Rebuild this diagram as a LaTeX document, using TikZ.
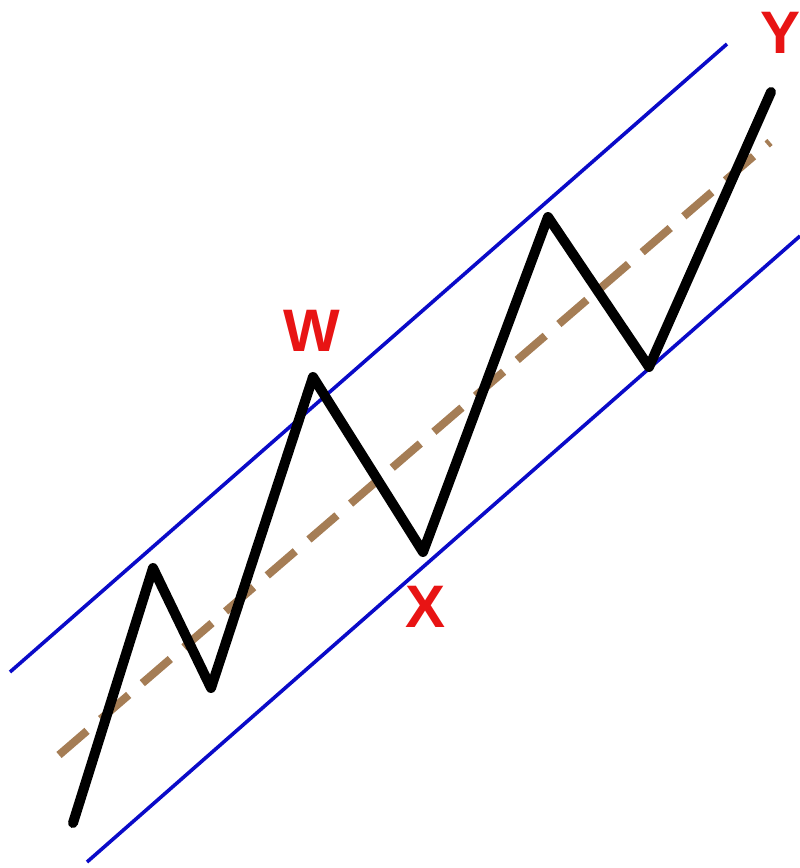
\documentclass[tikz,border=0pt]{standalone}
\usepackage{fontspec}
\setmainfont{Liberation Sans}
\definecolor{chanblue}{RGB}{10,10,200}
\definecolor{midtan}{RGB}{165,125,85}
\definecolor{lblred}{RGB}{232,20,20}
\tikzset{
  chan/.style={draw=chanblue, line width=3.6pt},
  midline/.style={draw=midtan, line width=8pt, dash pattern=on 37pt off 18pt},
  wave/.style={draw=black, line width=10pt, line join=round, line cap=round},
  lbl/.style={text=lblred, font=\fontsize{60}{60}\selectfont\bfseries, inner sep=0pt}
}
\begin{document}
\begin{tikzpicture}[x=1pt,y=-1pt]
\useasboundingbox (0,0) rectangle (800,868);
% channel lines
\coordinate (ua) at (10,672);
\coordinate (ub) at (727,44);
\coordinate (la) at (87,862);
\coordinate (lb) at (800,236);
\draw[chan] (ua) -- (ub);
\draw[chan] (la) -- (lb);
% middle dashed line
\coordinate (ma) at (59,755);
\coordinate (mb) at (770,142);
\draw[midline] (ma) -- (mb);
% wave
\coordinate (p0) at (73,823);
\coordinate (p1) at (153,568);
\coordinate (p2) at (211,688);
\coordinate (p3) at (313,377);
\coordinate (p4) at (423,552);
\coordinate (p5) at (548,217);
\coordinate (p6) at (649,367);
\coordinate (p7) at (771,92);
\draw[wave] (p0) -- (p1) -- (p2) -- (p3) -- (p4) -- (p5) -- (p6) -- (p7);
% labels
\node[lbl] (w) at (312,331) {W};
\node[lbl] (x) at (426,607) {X};
\node[lbl] (y) at (781,33) {Y};
\end{tikzpicture}
\end{document}
